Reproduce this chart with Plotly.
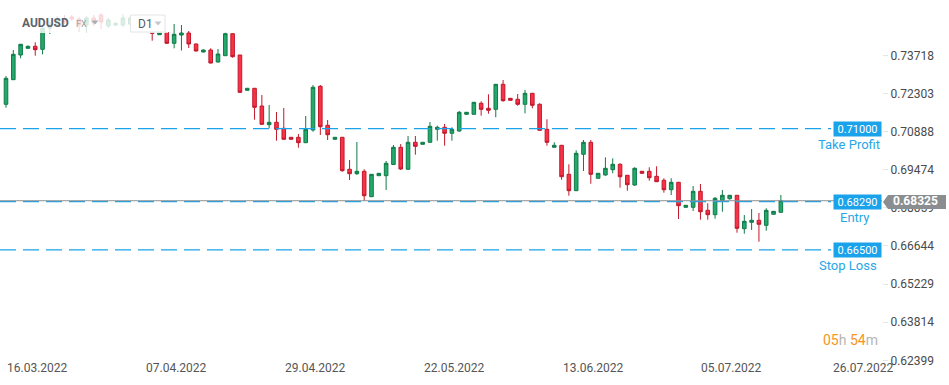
import pandas as pd
import plotly.graph_objects as go

# ---------------- data ----------------
symbol = "AUDUSD"
market = "FX"
timeframe = "D1"
# trading calendar of the chart (xStation D1 bars: Sunday..Friday)
calendar = pd.bdate_range("2022-03-16", "2022-07-31", freq="C",
                          weekmask="Sun Mon Tue Wed Thu Fri")

open_ = [0.71905, 0.72819, 0.73736, 0.73985, 0.74059, 0.73948, 0.74728, 0.74850, 0.75073, 0.75147,
         0.75073, 0.74850, 0.75110, 0.75221, 0.74813, 0.74850, 0.74850, 0.74887, 0.75110, 0.74962,
         0.74590, 0.74490, 0.74572, 0.74171, 0.74479, 0.74553, 0.74145, 0.73848, 0.73922, 0.73476,
         0.73710, 0.74527, 0.73736, 0.72425, 0.72500, 0.71842, 0.71148, 0.71237, 0.71014, 0.70680,
         0.70680, 0.70480, 0.70951, 0.72574, 0.71126, 0.70606, 0.70680, 0.69492, 0.69328, 0.69418,
         0.68474, 0.69254, 0.69254, 0.69670, 0.70309, 0.69492, 0.70494, 0.70420, 0.70494, 0.70977,
         0.71051, 0.70829, 0.70914, 0.71534, 0.71534, 0.71943, 0.71757, 0.71720, 0.72648, 0.72128,
         0.72091, 0.71905, 0.72314, 0.71905, 0.70977, 0.70309, 0.70383, 0.69306, 0.68697, 0.70049,
         0.70494, 0.69158, 0.69280, 0.69477, 0.69677, 0.69269, 0.68909, 0.69418, 0.69418, 0.69232,
         0.69083, 0.68734, 0.69009, 0.68081, 0.68081, 0.68675, 0.67969, 0.67806, 0.68326, 0.68400,
         0.68526, 0.67286, 0.67524, 0.67598, 0.67412, 0.67821, 0.67895]
high = [0.72956, 0.73922, 0.74145, 0.74089, 0.74208, 0.74776, 0.74962, 0.75184, 0.75221, 0.75221,
        0.75147, 0.75184, 0.75221, 0.75296, 0.75110, 0.74962, 0.75259, 0.75184, 0.75184, 0.75036,
        0.74601, 0.74590, 0.74590, 0.74887, 0.74850, 0.74627, 0.74163, 0.73940, 0.73985, 0.73959,
        0.74564, 0.74542, 0.73736, 0.72511, 0.72511, 0.72251, 0.71879, 0.71620, 0.71768, 0.70691,
        0.70803, 0.71471, 0.72622, 0.72622, 0.71322, 0.70691, 0.70691, 0.69837, 0.70506, 0.69492,
        0.69317, 0.69354, 0.69800, 0.70394, 0.70431, 0.70728, 0.70728, 0.70506, 0.71248, 0.71111,
        0.71174, 0.71051, 0.71657, 0.71620, 0.71991, 0.72017, 0.72277, 0.72659, 0.72808, 0.72139,
        0.72288, 0.72436, 0.72325, 0.71943, 0.71348, 0.70494, 0.70394, 0.69677, 0.70197, 0.70580,
        0.70580, 0.69354, 0.69937, 0.69900, 0.69715, 0.69280, 0.69566, 0.69429, 0.69566, 0.69603,
        0.69158, 0.69158, 0.69020, 0.68166, 0.68872, 0.68946, 0.68229, 0.68463, 0.68723, 0.68537,
        0.68537, 0.67795, 0.68018, 0.67869, 0.68044, 0.67943, 0.68537]
low = [0.71779, 0.72808, 0.73614, 0.73959, 0.73710, 0.73762, 0.74516, 0.74776, 0.74887, 0.74999,
       0.74590, 0.74553, 0.74813, 0.74702, 0.74739, 0.74813, 0.74776, 0.74813, 0.74850, 0.74627,
       0.74267, 0.74479, 0.74145, 0.73985, 0.73903, 0.73996, 0.73866, 0.73829, 0.73421, 0.73458,
       0.73699, 0.73636, 0.72325, 0.72418, 0.71334, 0.71155, 0.71014, 0.70554, 0.70598, 0.70598,
       0.70294, 0.70468, 0.70888, 0.70765, 0.70580, 0.70598, 0.69403, 0.69094, 0.69280, 0.68315,
       0.68463, 0.69243, 0.68723, 0.69652, 0.69466, 0.69484, 0.70034, 0.70413, 0.70487, 0.70554,
       0.70368, 0.70554, 0.70888, 0.71527, 0.71527, 0.71482, 0.71556, 0.71423, 0.72002, 0.72047,
       0.71853, 0.71571, 0.71757, 0.70933, 0.70368, 0.70301, 0.69106, 0.68512, 0.68686, 0.69429,
       0.68957, 0.69150, 0.69254, 0.69343, 0.68809, 0.68697, 0.68872, 0.69336, 0.69069, 0.69020,
       0.68623, 0.68537, 0.67646, 0.68073, 0.67943, 0.67620, 0.67620, 0.67657, 0.67917, 0.68363,
       0.67138, 0.67100, 0.67238, 0.66803, 0.67212, 0.67813, 0.67888]
close = [0.72871, 0.73762, 0.74133, 0.74059, 0.73933, 0.74728, 0.74850, 0.75073, 0.74962, 0.75073,
         0.74850, 0.75110, 0.74924, 0.74962, 0.75036, 0.74906, 0.75110, 0.75110, 0.74962, 0.74664,
         0.74542, 0.74579, 0.74171, 0.74505, 0.74553, 0.74145, 0.73885, 0.73922, 0.73439, 0.73773,
         0.74527, 0.73673, 0.72351, 0.72500, 0.71794, 0.71163, 0.71237, 0.70977, 0.70606, 0.70606,
         0.70480, 0.70977, 0.72537, 0.71074, 0.70777, 0.70680, 0.69440, 0.69328, 0.69418, 0.68512,
         0.69306, 0.69343, 0.69715, 0.70309, 0.69503, 0.70494, 0.70346, 0.70494, 0.71089, 0.71051,
         0.70829, 0.70977, 0.71608, 0.71608, 0.71980, 0.71720, 0.71683, 0.72648, 0.72039, 0.72054,
         0.71905, 0.72314, 0.71868, 0.70940, 0.70494, 0.70383, 0.69217, 0.68697, 0.70086, 0.70494,
         0.69306, 0.69343, 0.69529, 0.69677, 0.69217, 0.68920, 0.69529, 0.69343, 0.69180, 0.69031,
         0.68734, 0.69009, 0.68140, 0.68155, 0.68675, 0.67917, 0.67806, 0.68415, 0.68526, 0.68526,
         0.67301, 0.67561, 0.67598, 0.67450, 0.67969, 0.67932, 0.68325]

date_ticks = ["16.03.2022", "07.04.2022", "29.04.2022", "22.05.2022",
              "13.06.2022", "05.07.2022", "26.07.2022"]
price_ticks = [0.62399, 0.63814, 0.65229, 0.66644, 0.68059, 0.69474, 0.70888, 0.72303, 0.73718]

levels = ["Take Profit", "Entry", "Stop Loss"]
level_values = [0.71000, 0.68290, 0.66500]
last_price = close[-1]
countdown_h, countdown_m = "05", "54"

# ---------------- layout geometry ----------------
W, H = 949, 385
M_R, M_B = 67, 20
PW, PH = W - M_R, H - M_B          # plot area in px
STEP, X0 = 7.31, 6.0               # px per bar, centre of first bar
Y_TOP, Y_BOT = 0.757785, 0.622248  # price range of plot area

def px(xp):
    return xp / PW

def py(yp):
    return 1 - yp / PH

n = len(open_)
xi = list(range(n))
bar_dates = calendar[:n]

GREEN_F, GREEN_L = "#23a96b", "#107a48"
RED_F, RED_L = "#f83347", "#c0182b"
BLUE = "#1aa3ea"
BLUE_TXT = "#27a7e6"

fig = go.Figure()
fig.add_trace(go.Candlestick(
    x=xi, open=open_, high=high, low=low, close=close,
    increasing=dict(fillcolor=GREEN_F, line=dict(color=GREEN_L, width=1)),
    decreasing=dict(fillcolor=RED_F, line=dict(color=RED_L, width=1)),
    whiskerwidth=0, showlegend=False,
    text=[d.strftime("%d.%m.%Y") for d in bar_dates], hoverinfo="text+y",
))

shapes = []
annotations = []

# level lines
for name, val in zip(levels, level_values):
    shapes.append(dict(type="line", xref="paper", yref="y", x0=0, x1=px(831), y0=val, y1=val,
                       line=dict(color=BLUE, width=1.3, dash="16px,7px"), layer="above"))
# current price line
shapes.append(dict(type="line", xref="paper", yref="y", x0=0, x1=1, y0=last_price, y1=last_price,
                   line=dict(color="#8d9093", width=1), layer="above"))

label_cx = {"Take Profit": 849, "Entry": 855, "Stop Loss": 848}
for name, val in zip(levels, level_values):
    annotations.append(dict(xref="paper", yref="y", x=px(857.5), y=val, text=f"{val:.5f}",
                            showarrow=False, bgcolor=BLUE, borderpad=1, width=45, height=12,
                            font=dict(family="Roboto", size=11, color="white"),
                            xanchor="center", yanchor="middle"))
    annotations.append(dict(xref="paper", yref="y", x=px(label_cx[name]), y=val, yshift=-16,
                            text=name, showarrow=False,
                            font=dict(family="Roboto", size=13, color=BLUE_TXT),
                            xanchor="center", yanchor="middle"))

# current price tag
tag_y0, tag_y1 = 195, 209
shapes.append(dict(type="path", xref="paper", yref="paper", layer="above",
                   path=(f"M {px(888)},{py(tag_y0)} L {px(946)},{py(tag_y0)} L {px(946)},{py(tag_y1)} "
                         f"L {px(888)},{py(tag_y1)} L {px(883)},{py(202)} Z"),
                   fillcolor="#8b8e91", line=dict(width=0)))
annotations.append(dict(xref="paper", yref="y", x=px(916), y=last_price, text=f"<b>{last_price:.5f}</b>",
                        showarrow=False, font=dict(family="Roboto", size=12, color="white"),
                        xanchor="center", yanchor="middle"))

# header overlay
shapes.append(dict(type="rect", xref="paper", yref="paper", x0=0, x1=px(168), y0=py(33), y1=1,
                   fillcolor="rgba(255,255,255,0.82)", line=dict(width=0), layer="above"))
shapes.append(dict(type="path", xref="paper", yref="paper", layer="above",
                   path=f"M {px(91.5)},{py(20.5)} L {px(98.5)},{py(20.5)} L {px(95)},{py(24.5)} Z",
                   fillcolor="#a9adb2", line=dict(width=0)))
shapes.append(dict(type="rect", xref="paper", yref="paper", x0=px(130.5), x1=px(165), y0=py(32), y1=py(15),
                   fillcolor="white", line=dict(color="#e2e4e6", width=1), layer="above"))
shapes.append(dict(type="path", xref="paper", yref="paper", layer="above",
                   path=f"M {px(154.5)},{py(21.5)} L {px(161.5)},{py(21.5)} L {px(158)},{py(25.5)} Z",
                   fillcolor="#c4c7ca", line=dict(width=0)))
annotations.append(dict(xref="paper", yref="paper", x=px(20), y=py(23), text=f"<b>{symbol}</b>",
                        showarrow=False, xanchor="left", yanchor="middle",
                        font=dict(family="Roboto", size=12, color="#5d646c")))
annotations.append(dict(xref="paper", yref="paper", x=px(74), y=py(23.5), text=market,
                        showarrow=False, xanchor="left", yanchor="middle",
                        font=dict(family="Roboto", size=9, color="#9aa0a6")))
annotations.append(dict(xref="paper", yref="paper", x=px(135.5), y=py(23.5), text=timeframe,
                        showarrow=False, xanchor="left", yanchor="middle",
                        font=dict(family="Roboto", size=12, color="#555b61")))

# date labels (left aligned at their bar)
for d in date_ticks:
    idx = calendar.get_loc(pd.to_datetime(d, format="%d.%m.%Y"))
    annotations.append(dict(xref="x", yref="paper", x=idx, y=py(368), text=d, showarrow=False,
                            xanchor="left", yanchor="middle", xshift=-1,
                            font=dict(family="Roboto", size=12, color="#555555")))

# countdown
annotations.append(dict(xref="paper", yref="paper", x=px(880), y=py(340), showarrow=False,
                        xanchor="right", yanchor="middle",
                        text=(f"<span style='color:#f7941d'>{countdown_h}</span>"
                              f"<span style='color:#b5b5b5'>h </span>"
                              f"<span style='color:#f7941d'>{countdown_m}</span>"
                              f"<span style='color:#b5b5b5'>m</span>"),
                        font=dict(family="Roboto", size=14)))

fig.update_layout(
    width=W, height=H, margin=dict(l=0, r=M_R, t=0, b=M_B),
    paper_bgcolor="white", plot_bgcolor="white",
    shapes=shapes, annotations=annotations, showlegend=False,
    xaxis=dict(range=[-X0 / STEP, (PW - X0) / STEP], showgrid=False, zeroline=False,
               showticklabels=False, ticks="", rangeslider=dict(visible=False), showline=False),
    yaxis=dict(range=[Y_BOT, Y_TOP], side="right", showgrid=False, zeroline=False,
               tickvals=price_ticks, ticktext=[f"{v:.5f}" for v in price_ticks],
               ticks="outside", ticklen=5, tickcolor="#e6e6e6", tickwidth=1,
               tickfont=dict(family="Roboto", size=12, color="#4a4a4a"), showline=False),
    font=dict(family="Roboto"),
)

fig.write_html("out.html", config={"displayModeBar": False},
               post_script="document.body.style.margin='0px';document.body.style.overflow='hidden';")
